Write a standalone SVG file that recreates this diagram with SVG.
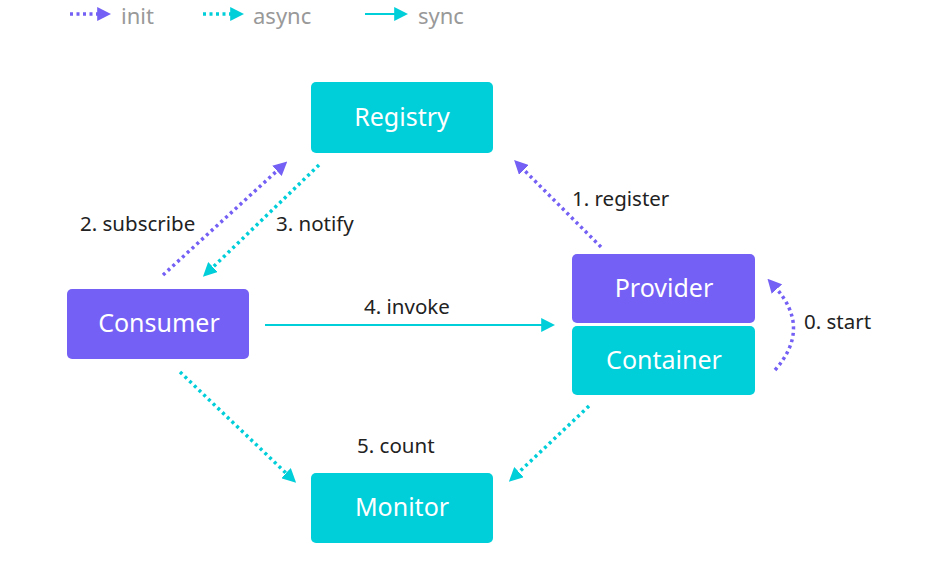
<svg xmlns="http://www.w3.org/2000/svg" width="927" height="567" viewBox="0 0 927 567">
<style>
.cy{fill:#00CED9}
.pu{fill:#7460F4}
.nt{font-family:"Noto Sans","Liberation Sans",sans-serif;font-size:25px;fill:#fff;text-anchor:middle}
.lb{font-family:"Noto Sans","Liberation Sans",sans-serif;font-size:20.5px;fill:#222}
.lg{font-family:"Noto Sans","Liberation Sans",sans-serif;font-size:22px;fill:#999}
.dp{fill:none;stroke:#7460F4;stroke-width:3.5;stroke-dasharray:3 3.5}
.dc{fill:none;stroke:#00CED9;stroke-width:3.5;stroke-dasharray:3 3.5}
.sc{fill:none;stroke:#00CED9;stroke-width:2}
</style>
<defs>
<marker id="ap" viewBox="0 0 10 10" refX="2" refY="5" markerWidth="14" markerHeight="14" markerUnits="userSpaceOnUse" orient="auto"><path d="M0,0 L10,5 L0,10 z" fill="#7460F4"/></marker>
<marker id="ac" viewBox="0 0 10 10" refX="2" refY="5" markerWidth="14" markerHeight="14" markerUnits="userSpaceOnUse" orient="auto"><path d="M0,0 L10,5 L0,10 z" fill="#00CED9"/></marker>
</defs>
<rect width="927" height="567" fill="#fff"/>
<g id="legend">
<path class="dp" d="M70,14 H100" marker-end="url(#ap)"/>
<text class="lg" x="121" y="24">init</text>
<path class="dc" d="M203,14 H233" marker-end="url(#ac)"/>
<text class="lg" x="253" y="24">async</text>
<path class="sc" d="M365,14 H397" marker-end="url(#ac)"/>
<text class="lg" x="418" y="24">sync</text>
</g>
<g id="registry"><rect class="cy" x="311" y="82" width="182" height="71" rx="5"/><text class="nt" x="402" y="126">Registry</text></g>
<g id="consumer"><rect class="pu" x="67" y="289" width="182" height="70" rx="5"/><text class="nt" x="159" y="332">Consumer</text></g>
<g id="provider"><rect class="pu" x="572" y="254" width="183" height="69" rx="5"/><text class="nt" x="664" y="297">Provider</text></g>
<g id="container"><rect class="cy" x="572" y="326" width="183" height="69" rx="5"/><text class="nt" x="664" y="369">Container</text></g>
<g id="monitor"><rect class="cy" x="311" y="473" width="182" height="70" rx="5"/><text class="nt" x="402" y="516">Monitor</text></g>
<g id="connectors">
<path class="dp" d="M163,275 L279,169" marker-end="url(#ap)"/>
<path class="dc" d="M319,165 L211,269" marker-end="url(#ac)"/>
<path class="dp" d="M601,247 L522,168" marker-end="url(#ap)"/>
<path class="dp" d="M775,370 Q812,328 775,287" marker-end="url(#ap)"/>
<path class="sc" d="M265,325 H544" marker-end="url(#ac)"/>
<path class="dc" d="M180,372 L288,475" marker-end="url(#ac)"/>
<path class="dc" d="M589,406 L517,474" marker-end="url(#ac)"/>
<text class="lb" x="80" y="231">2. subscribe</text>
<text class="lb" x="276" y="231">3. notify</text>
<text class="lb" x="572" y="206">1. register</text>
<text class="lb" x="804" y="329">0. start</text>
<text class="lb" x="364" y="314">4. invoke</text>
<text class="lb" x="357" y="453">5. count</text>
</g>
</svg>
